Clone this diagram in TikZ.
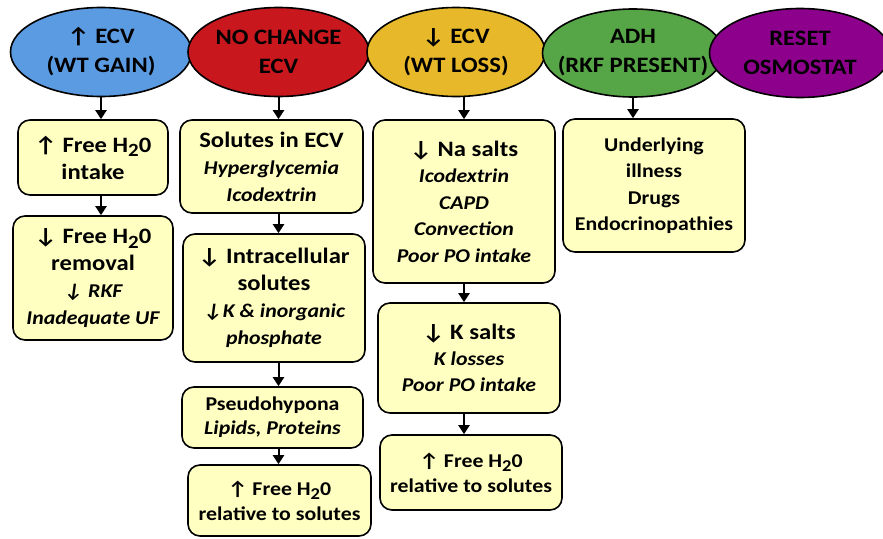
\documentclass[tikz,border=0pt]{standalone}
\usepackage{fontspec}
\usepackage{graphicx}
\setmainfont[FakeStretch=1.12]{Carlito}
\usetikzlibrary{arrows.meta,shapes.geometric}
\definecolor{gainblue}{RGB}{91,155,225}
\definecolor{samered}{RGB}{200,24,30}
\definecolor{lossgold}{RGB}{230,184,42}
\definecolor{adhgreen}{RGB}{86,165,70}
\definecolor{resetpurple}{RGB}{140,0,140}
\definecolor{boxyellow}{RGB}{255,255,194}
\newcommand{\bigline}[1]{{\fontsize{22}{28}\selectfont #1}}
\newcommand{\water}{H\raisebox{-0.45ex}{\scalebox{0.85}{2}}0}

\begin{document}
\begin{tikzpicture}[x=1pt, y=-1pt, >={Triangle[width=11pt,length=9pt]},
  cause/.style={ellipse, draw=black, line width=1.6pt,
    inner xsep=-60pt, inner ysep=-20pt,
    minimum width=181pt, minimum height=89pt, align=center,
    font=\bfseries\fontsize{22}{29}\selectfont},
  factor/.style={draw=black, line width=1.6pt, rounded corners=12pt,
    fill=boxyellow, inner sep=0pt, align=center,
    font=\bfseries\fontsize{19.5}{27}\selectfont}]

  \useasboundingbox (0,0) rectangle (883,538);

  % Top row, each ellipse drawn over its left neighbour
  \node[cause, fill=gainblue]    (gain)  at (101,52)   {↑ ECV\\(WT GAIN)};
  \node[cause, fill=samered]     (same)  at (278.5,52) {NO CHANGE\\ECV};
  \node[cause, fill=lossgold, minimum width=178pt] (loss) at (456,52) {↓ ECV\\(WT LOSS)};
  \node[cause, fill=adhgreen, minimum height=88pt] (adh)  at (633,53) {ADH\\(RKF PRESENT)};
  \node[cause, fill=resetpurple] (reset) at (800,53)   {RESET\\OSMOSTAT};

  % Column under WT GAIN
  \node[factor, minimum width=150pt, minimum height=75pt] (gainA) at (93,157.5)
    {\bigline{↑ Free \water}\\\bigline{intake}};
  \node[factor, minimum width=160pt, minimum height=124pt] (gainB) at (93,278)
    {\bigline{↓ Free \water}\\\bigline{removal}\\\itshape ↓ RKF\\\itshape Inadequate UF};

  % Column under NO CHANGE
  \node[factor, minimum width=183pt, minimum height=93pt] (sameA) at (271.5,166.5)
    {\bigline{Solutes in ECV}\\\itshape Hyperglycemia\\\itshape Icodextrin};
  \node[factor, minimum width=182pt, minimum height=128pt] (sameB) at (274,298)
    {\bigline{↓ Intracellular}\\\bigline{solutes}\\\itshape ↓K \& inorganic\\\itshape phosphate};
  \node[factor, minimum width=181pt, minimum height=61pt,
    font=\bfseries\fontsize{19.5}{24}\selectfont] (sameC) at (272.5,417.5)
    {Pseudohypona\\\itshape Lipids, Proteins};
  \node[factor, minimum width=183pt, minimum height=71pt,
    font=\bfseries\fontsize{19.5}{25}\selectfont] (sameD) at (279.5,500.5)
    {↑ Free \water\\relative to solutes};

  % Column under WT LOSS
  \node[factor, minimum width=182pt, minimum height=163pt,
    font=\bfseries\fontsize{19.5}{26.5}\selectfont] (lossA) at (464,201.5)
    {\bigline{↓ Na salts}\\\itshape Icodextrin\\\itshape CAPD\\\itshape Convection\\\itshape Poor PO intake};
  \node[factor, minimum width=182pt, minimum height=110pt,
    font=\bfseries\fontsize{19.5}{26}\selectfont] (lossB) at (469,358)
    {\bigline{↓ K salts}\\\itshape K losses\\\itshape Poor PO intake};
  \node[factor, minimum width=182pt, minimum height=75pt,
    font=\bfseries\fontsize{19.5}{25}\selectfont] (lossC) at (471,472.5)
    {↑ Free \water\\relative to solutes};

  % Column under ADH
  \node[factor, minimum width=182pt, minimum height=133pt,
    font=\bfseries\fontsize{19.5}{26.5}\selectfont] (adhA) at (654,185.5)
    {Underlying\\illness\\Drugs\\Endocrinopathies};

  % Downward links, kept straight under a column node
  \foreach \a/\b/\c in {gain/gainA/gain, gainA/gainB/gain, same/sameA/same,
      sameA/sameB/same, sameB/sameC/same, sameC/sameD/same, loss/lossA/lossA,
      lossA/lossB/lossA, lossB/lossC/lossA, adh/adhA/adh}
    \draw[->, line width=2pt] (\a.south -| \c.south) -- (\b.north -| \c.south);

\end{tikzpicture}
\end{document}
